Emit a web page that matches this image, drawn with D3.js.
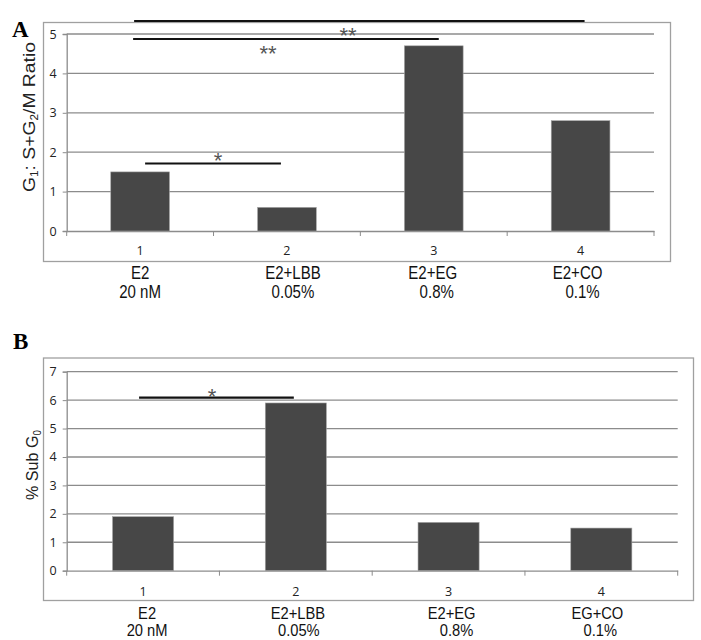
<!DOCTYPE html>
<html><head><meta charset="utf-8">
<script src="https://cdn.jsdelivr.net/npm/d3@7"></script>
<style>body{margin:0;background:#fff}svg{display:block}</style>
</head><body>
<svg id="c" width="701" height="640"></svg>
<script>
const categories = ["1","2","3","4"];
const labelsA1 = ["E2","E2+LBB","E2+EG","E2+CO"];
const labelsA2 = ["20 nM","0.05%","0.8%","0.1%"];
const valuesA = [1.5, 0.6, 4.7, 2.8];
const ticksA = [0,1,2,3,4,5];
const labelsB1 = ["E2","E2+LBB","E2+EG","EG+CO"];
const labelsB2 = ["20 nM","0.05%","0.8%","0.1%"];
const valuesB = [1.9, 5.9, 1.7, 1.5];
const ticksB = [0,1,2,3,4,5,6,7];
// significance brackets: [from category, to category, level]
const sigA = [["1","4","**"],["1","3","**"],["1","2","*"]];
const sigB = [["1","2","*"]];

const svg = d3.select("#c");
const sans = "'Liberation Sans', Arial, sans-serif";
const tickFont = "'Open Sans', 'Liberation Sans', sans-serif";

function narrowText(g, x, y, size, sx, txt){
  return g.append("text").attr("transform",`translate(${x},${y}) scale(${sx},1)`)
    .attr("text-anchor","middle").attr("font-family",sans).attr("font-size",size)
    .attr("fill","#111").text(txt);
}

function panel(cfg){
  const g = svg.append("g");
  g.append("rect").attr("x",cfg.frame[0]+0.5).attr("y",cfg.frame[1]+0.5)
    .attr("width",cfg.frame[2]-cfg.frame[0]).attr("height",cfg.frame[3]-cfg.frame[1])
    .attr("fill","none").attr("stroke","#a0a0a0").attr("stroke-width",1.3);
  const x = d3.scaleBand().domain(categories).range([cfg.x0,cfg.x1]).paddingInner(0.6).paddingOuter(0.3);
  const y = d3.scaleLinear().domain([0,cfg.ymax]).range([cfg.y0,cfg.y1]);
  g.selectAll("line.grid").data(cfg.ticks.filter(t=>t>0)).join("line")
    .attr("x1",cfg.x0).attr("x2",cfg.x1).attr("y1",d=>y(d)).attr("y2",d=>y(d))
    .attr("stroke","#8c8c8c").attr("stroke-width",1.3);
  const ya = g.append("g").attr("transform",`translate(${cfg.x0},0)`)
    .call(d3.axisLeft(y).tickValues(cfg.ticks).tickSize(4).tickPadding(6).tickFormat(d3.format("d")));
  ya.select(".domain").attr("stroke","#8c8c8c").attr("stroke-width",1.3);
  ya.selectAll(".tick line").attr("stroke","#8c8c8c");
  ya.selectAll("text").attr("font-family",tickFont).attr("font-size",12.5).attr("fill","#222");
  const xa = g.append("g").attr("transform",`translate(0,${cfg.y0})`)
    .call(d3.axisBottom(x).tickSize(0).tickPadding(0));
  xa.select(".domain").attr("stroke","#8c8c8c").attr("stroke-width",1.3);
  xa.selectAll("text").attr("font-family",tickFont).attr("font-size",12.5).attr("fill","#222")
    .attr("dy",null).attr("y",cfg.numOff);
  const bounds = d3.range(categories.length+1).map(i=>cfg.x0 + i*(cfg.x1-cfg.x0)/categories.length);
  g.selectAll("line.ct").data(bounds).join("line")
    .attr("x1",d=>d).attr("x2",d=>d).attr("y1",cfg.y0).attr("y2",cfg.y0+5)
    .attr("stroke","#8c8c8c").attr("stroke-width",1);
  g.selectAll("rect.bar").data(cfg.values).join("rect")
    .attr("x",(d,i)=>x(categories[i])).attr("width",x.bandwidth())
    .attr("y",d=>y(d)).attr("height",d=>cfg.y0-y(d))
    .attr("fill","#474747").attr("stroke","#a5a5a5").attr("stroke-width",0.6);
  categories.forEach((c,i)=>{
    const cx = x(c)+x.bandwidth()/2 + cfg.lblShift[i];
    narrowText(g, cx, cfg.lblY1, cfg.lblSize, cfg.lblSx, cfg.l1[i]);
    narrowText(g, cx+cfg.lbl2Shift[i], cfg.lblY2, cfg.lblSize, cfg.lblSx, cfg.l2[i]);
  });
  const yt = g.append("text").attr("transform",`translate(${cfg.ytX},${cfg.ytY}) rotate(-90)`)
    .attr("text-anchor","middle").attr("font-family",sans).attr("font-size",16.5).attr("fill","#222")
    .attr("textLength",cfg.ytLen).attr("lengthAdjust","spacingAndGlyphs");
  cfg.ytitle(yt);
  g.append("text").attr("x",cfg.letter[0]).attr("y",cfg.letter[1])
    .attr("font-family","'Liberation Serif', 'Times New Roman', serif").attr("font-weight","bold")
    .attr("font-size",23).text(cfg.letter[2]);
  cfg.sig.forEach((s,i)=>{
    const ly = cfg.sigY[i];
    const xa1 = x(s[0])+x.bandwidth()/2 + cfg.sigX[i][0];
    const xa2 = x(s[1])+x.bandwidth()/2 + cfg.sigX[i][1];
    g.append("line").attr("x1",xa1).attr("x2",xa2).attr("y1",ly).attr("y2",ly)
      .attr("stroke","#111").attr("stroke-width",2.2);
    g.append("text").attr("x",cfg.starX[i]).attr("y",cfg.starY[i]).attr("text-anchor","middle")
      .attr("font-family",sans).attr("font-size",22).attr("fill","#555").text(s[2]);
  });
}

panel({
  frame:[43,22,670,261], x0:66.7, x1:654, y0:231, y1:34, ymax:5, ticks:ticksA, values:valuesA,
  numOff:24, l1:labelsA1, l2:labelsA2, lblY1:279.3, lblY2:298.3, lblSize:17.5, lblSx:0.86,
  lblShift:[0,6,-1,-3], lbl2Shift:[0,0,4,5],
  ytX:35, ytY:117, ytLen:150,
  ytitle:(t)=>{t.append("tspan").text("G");t.append("tspan").attr("font-size",10).attr("dy",3).text("1");
    t.append("tspan").attr("dy",-3).text(": S+G");t.append("tspan").attr("font-size",10).attr("dy",3).text("2");
    t.append("tspan").attr("dy",-3).text("/M Ratio");},
  letter:[12,37,"A"],
  sig:sigA, sigY:[21,39,163.5], sigX:[[-6,4],[-7,5],[5,-6]],
  starX:[348,268,218], starY:[43,61,168]
});
panel({
  frame:[43,357.5,693,600], x0:66.7, x1:677.7, y0:570.7, y1:371.7, ymax:7, ticks:ticksB, values:valuesB,
  numOff:25.3, l1:labelsB1, l2:labelsB2, lblY1:619, lblY2:636.3, lblSize:16, lblSx:0.92,
  lblShift:[4,2,3,-4], lbl2Shift:[0,1,5,3],
  ytX:37.5, ytY:465, ytLen:70,
  ytitle:(t)=>{t.append("tspan").text("% Sub G");t.append("tspan").attr("font-size",10).attr("dy",3).text("0");},
  letter:[13,349,"B"],
  sig:sigB, sigY:[397.7], sigX:[[-4,-2]],
  starX:[212], starY:[404]
});
</script>
</body></html>
